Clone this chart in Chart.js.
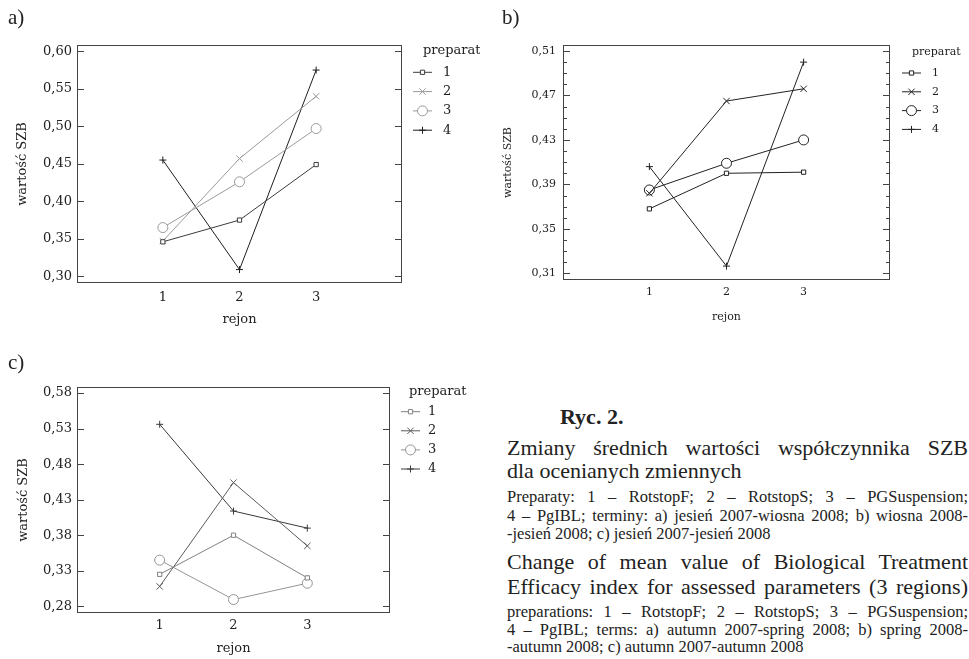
<!DOCTYPE html>
<html>
<head>
<meta charset="utf-8">
<script src="https://cdn.jsdelivr.net/npm/chart.js@4.4.1/dist/chart.umd.min.js"></script>
<style>
body { margin: 0; background: #fff; width: 969px; height: 659px; position: relative; overflow: hidden; font-family: "Liberation Serif", serif; color: #222; }
canvas { position: absolute; }
.lbl { position: absolute; font-size: 21px; line-height: 24px; }
.cap { position: absolute; left: 507px; width: 461px; }
.big { font-size: 22px; line-height: 24px; }
.small { font-size: 16.5px; line-height: 18px; }
.j { text-align: justify; text-align-last: justify; }
</style>
</head>
<body>
<canvas id="chartA" style="left:0;top:0" width="480" height="330"></canvas>
<canvas id="chartB" style="left:480px;top:0" width="489" height="330"></canvas>
<canvas id="chartC" style="left:0;top:330px" width="480" height="329"></canvas>

<div class="lbl" style="left:8px;top:5px">a)</div>
<div class="lbl" style="left:502px;top:5px">b)</div>
<div class="lbl" style="left:8px;top:350px">c)</div>

<div class="cap" style="left:560px;top:404px;font-size:22px;line-height:26px;font-weight:bold">Ryc. 2.</div>
<div class="cap big j" style="top:436px">Zmiany średnich wartości współczynnika SZB</div>
<div class="cap big" style="top:459px">dla ocenianych zmiennych</div>
<div class="cap small j" style="top:488px">Preparaty: 1 – RotstopF; 2 – RotstopS; 3 – PGSuspension;</div>
<div class="cap small j" style="top:507px">4 – PgIBL; terminy: a) jesień 2007-wiosna 2008; b) wiosna 2008-</div>
<div class="cap small" style="top:525px">-jesień 2008; c) jesień 2007-jesień 2008</div>
<div class="cap big j" style="top:550px">Change of mean value of Biological Treatment</div>
<div class="cap big j" style="top:575px">Efficacy index for assessed parameters (3 regions)</div>
<div class="cap small j" style="top:603px">preparations: 1 – RotstopF; 2 – RotstopS; 3 – PGSuspension;</div>
<div class="cap small j" style="top:621px">4 – PgIBL; terms: a) autumn 2007-spring 2008; b) spring 2008-</div>
<div class="cap small" style="top:638px">-autumn 2008; c) autumn 2007-autumn 2008</div>

<script>
// regions on the x axis and preparation names
const regions = [1, 2, 3];
const prepNames = ['1', '2', '3', '4'];

// a) autumn 2007 - spring 2008
const aPrep1 = [0.346, 0.375, 0.449];
const aPrep2 = [0.347, 0.457, 0.540];
const aPrep3 = [0.365, 0.426, 0.497];
const aPrep4 = [0.455, 0.309, 0.575];
const aTicks = [0.30, 0.35, 0.40, 0.45, 0.50, 0.55, 0.60];

// b) spring 2008 - autumn 2008
const bPrep1 = [0.368, 0.400, 0.401];
const bPrep2 = [0.382, 0.465, 0.476];
const bPrep3 = [0.385, 0.409, 0.430];
const bPrep4 = [0.406, 0.3165, 0.500];
const bTicks = [0.31, 0.35, 0.39, 0.43, 0.47, 0.51];

// c) autumn 2007 - autumn 2008
const cPrep1 = [0.325, 0.380, 0.320];
const cPrep2 = [0.308, 0.454, 0.365];
const cPrep3 = [0.345, 0.2895, 0.3125];
const cPrep4 = [0.536, 0.414, 0.390];
const cTicks = [0.28, 0.33, 0.38, 0.43, 0.48, 0.53, 0.58];

const markers = ['rect', 'crossRot', 'circle', 'cross'];
const markerRadius = [3, 4.5, 5, 3.5];

Chart.defaults.font.family = '"DejaVu Serif", serif';
Chart.defaults.color = '#222';

// box round the plot + inward tick marks on both sides
const framePlugin = {
    id: 'frame',
    beforeDatasetsDraw(chart, args, opts) {
        const { ctx, chartArea: a } = chart;
        const y = chart.scales.y;
        ctx.save();
        ctx.strokeStyle = '#444';
        ctx.lineWidth = 1;
        ctx.strokeRect(a.left + 0.5, a.top + 0.5, a.right - a.left - 1, a.bottom - a.top - 1);
        const mark = (v, len) => {
            const py = Math.round(y.getPixelForValue(v)) + 0.5;
            ctx.beginPath();
            ctx.moveTo(a.left, py); ctx.lineTo(a.left + len, py);
            ctx.moveTo(a.right, py); ctx.lineTo(a.right - len, py);
            ctx.stroke();
        };
        const vals = y.ticks.map(t => t.value);
        vals.forEach(v => mark(v, 7));
        if (opts.minor) {
            for (let i = 0; i < vals.length - 1; i++) {
                const step = (vals[i + 1] - vals[i]) / (opts.minor + 1);
                for (let k = 1; k <= opts.minor; k++) mark(vals[i] + k * step, 4);
            }
        }
        ctx.restore();
    }
};

// legend with a short line through the marker, like the original
const sideLegend = {
    id: 'sideLegend',
    afterDraw(chart, args, o) {
        const ctx = chart.ctx;
        ctx.save();
        ctx.font = o.size + 'px "DejaVu Serif"';
        ctx.fillStyle = '#222';
        ctx.textBaseline = 'middle';
        ctx.textAlign = 'left';
        ctx.fillText('preparat', o.titleX, o.titleY);
        chart.data.datasets.forEach((ds, i) => {
            const py = o.y0 + i * o.gap;
            ctx.strokeStyle = ds.borderColor;
            ctx.lineWidth = 1;
            ctx.beginPath();
            ctx.moveTo(o.lineX, py);
            ctx.lineTo(o.lineX + 19, py);
            ctx.stroke();
            ctx.fillStyle = '#fff';
            Chart.helpers.drawPoint(ctx, { pointStyle: ds.pointStyle, radius: ds.pointRadius, rotation: 0, borderWidth: 1 }, o.lineX + 9.5, py);
            ctx.fillStyle = '#222';
            ctx.fillText(ds.label, o.textX, py);
        });
        ctx.restore();
    }
};

function fmt(v) {
    return v.toFixed(2).replace('.', ',');
}

function makeChart(id, p) {
    const font = { size: p.font, family: '"DejaVu Serif", serif' };
    const datasets = p.series.map((vals, i) => ({
        label: prepNames[i],
        data: regions.map((r, k) => ({ x: r, y: vals[k] })),
        borderColor: p.colors[i],
        borderWidth: 1,
        pointStyle: markers[i],
        pointRadius: markerRadius[i],
        pointBorderColor: p.colors[i],
        pointBackgroundColor: '#fff',
        pointBorderWidth: 1,
        tension: 0
    }));

    new Chart(document.getElementById(id).getContext('2d'), {
        type: 'line',
        data: { datasets },
        plugins: [framePlugin, sideLegend],
        options: {
            responsive: false,
            animation: false,
            events: [],
            layout: { padding: { left: 0, top: p.area.t, right: p.w - p.area.r, bottom: 0 } },
            scales: {
                x: {
                    type: 'linear',
                    min: -0.12,
                    max: 4.12,
                    afterBuildTicks: s => { s.ticks = regions.map(v => ({ value: v })); },
                    afterFit: s => { s.height = p.h - p.area.b; },
                    grid: { display: false, drawTicks: false },
                    border: { display: false },
                    ticks: { font, color: '#222', padding: p.xPad, autoSkip: false, maxRotation: 0, callback: v => String(v) },
                    title: { display: true, text: 'rejon', font, color: '#222', padding: { top: 0, bottom: p.xTitlePad } }
                },
                y: {
                    type: 'linear',
                    min: p.yMin,
                    max: p.yMax,
                    afterBuildTicks: s => { s.ticks = p.ticks.map(v => ({ value: v })); },
                    afterFit: s => { s.width = p.area.l; },
                    grid: { display: false, drawTicks: false },
                    border: { display: false },
                    ticks: { font, color: '#222', padding: p.yPad, autoSkip: false, callback: v => fmt(v) },
                    title: { display: true, text: 'wartość SZB', font, color: '#222', padding: { top: p.yTitlePad, bottom: 0 } }
                }
            },
            plugins: {
                legend: { display: false },
                tooltip: { enabled: false },
                frame: { minor: p.minor },
                sideLegend: p.legend
            }
        }
    });
}

makeChart('chartA', {
    w: 480, h: 330, area: { l: 77, r: 402, t: 45, b: 283 },
    font: 13, yMin: 0.2911, yMax: 0.6084, ticks: aTicks, minor: 0,
    xPad: 7, xTitlePad: 3, yPad: 5, yTitlePad: 15,
    series: [aPrep1, aPrep2, aPrep3, aPrep4],
    colors: ['#3c3c3c', '#9a9a9a', '#9a9a9a', '#1e1e1e'],
    legend: { size: 13, titleX: 423, titleY: 51, lineX: 413, textX: 443, y0: 72.3, gap: 19.3 }
});

makeChart('chartB', {
    w: 489, h: 330, area: { l: 83, r: 410, t: 45, b: 280 },
    font: 11, yMin: 0.304, yMax: 0.5154, ticks: bTicks, minor: 3,
    xPad: 6, xTitlePad: 6, yPad: 7, yTitlePad: 22,
    series: [bPrep1, bPrep2, bPrep3, bPrep4],
    colors: ['#222', '#222', '#222', '#222'],
    legend: { size: 11, titleX: 432, titleY: 52, lineX: 422, textX: 452, y0: 73, gap: 18.8 }
});

makeChart('chartC', {
    w: 480, h: 329, area: { l: 77, r: 390, t: 57, b: 283 },
    font: 13, yMin: 0.2706, yMax: 0.5885, ticks: cTicks, minor: 0,
    xPad: 5, xTitlePad: 3, yPad: 5, yTitlePad: 16,
    series: [cPrep1, cPrep2, cPrep3, cPrep4],
    colors: ['#808080', '#5a5a5a', '#949494', '#3a3a3a'],
    legend: { size: 13, titleX: 409, titleY: 62, lineX: 401, textX: 428, y0: 81.7, gap: 19.1 }
});
</script>
</body>
</html>
